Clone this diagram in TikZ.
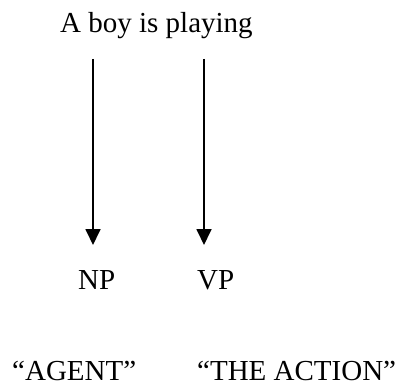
\documentclass[tikz,border=0pt]{standalone}
\usepackage{fontspec}
\setmainfont{Liberation Serif}
\usetikzlibrary{arrows.meta}
\begin{document}
\begin{tikzpicture}[x=1pt,y=-1pt,
  lbl/.style={anchor=base west,inner sep=0pt,text depth=0pt,font=\fontsize{29}{34}\selectfont},
  arr/.style={line width=1.8pt,-{Triangle[width=15pt,length=16pt]}}]
\useasboundingbox (0,0) rectangle (398,385);
\node[lbl] (title) at (60,33) {A boy is playing};
\node[lbl] (np) at (78,289) {NP};
\node[lbl] (vp) at (197,289) {VP};
\node[lbl] (agent) at (12,380) {“AGENT”};
\node[lbl] (action) at (197,380) {“THE ACTION”};
\coordinate (a1s) at (93,59);
\coordinate (a1e) at (93,245);
\coordinate (a2s) at (204,59);
\coordinate (a2e) at (204,245);
\draw[arr] (a1s) -- (a1e);
\draw[arr] (a2s) -- (a2e);
\end{tikzpicture}
\end{document}
